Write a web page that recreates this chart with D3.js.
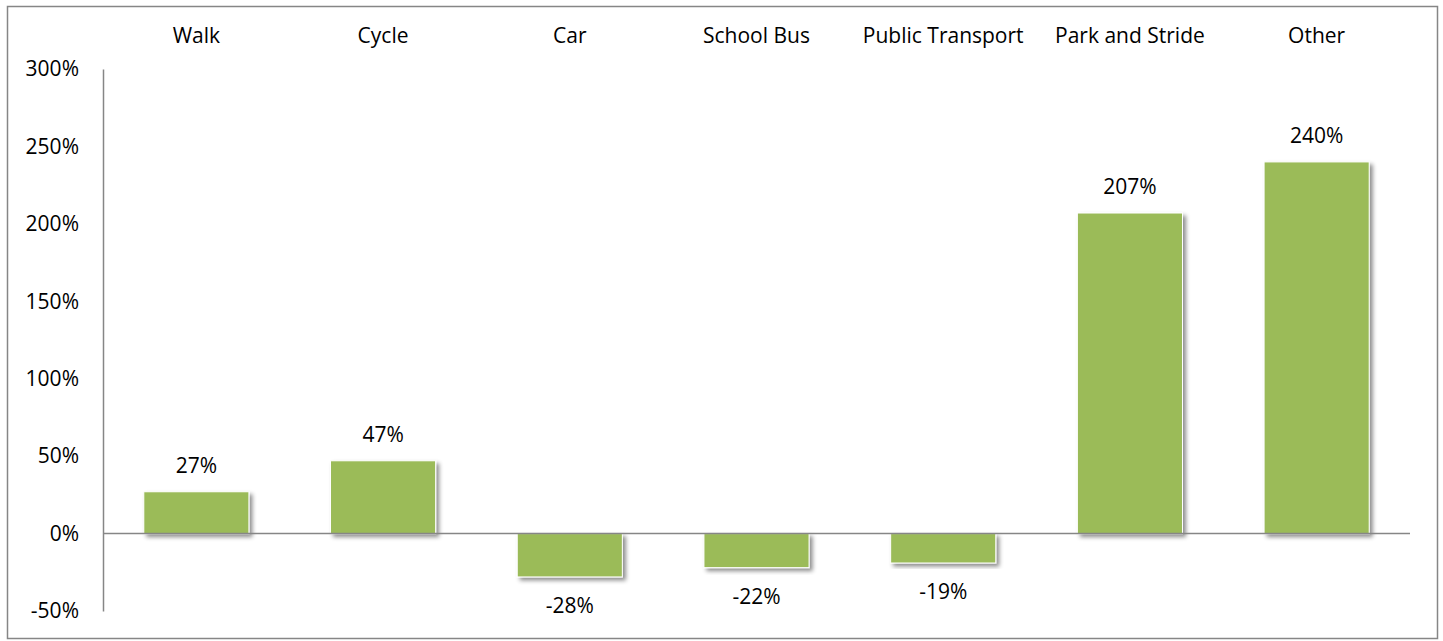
<!DOCTYPE html>
<html>
<head>
<meta charset="utf-8">
<script src="https://cdn.jsdelivr.net/npm/d3@7"></script>
<style>
  html, body { margin: 0; padding: 0; background: #fff; }
  svg { display: block; }
  text { font-family: "Open Sans", "Noto Sans", sans-serif; fill: #000; }
</style>
</head>
<body>
<svg id="chart" width="1443" height="641"></svg>
<script>
// Change in travel mode share, by mode
const categories = ["Walk", "Cycle", "Car", "School Bus", "Public Transport", "Park and Stride", "Other"];
const changes = [27, 47, -28, -22, -19, 207, 240];
const yTicks = [-50, 0, 50, 100, 150, 200, 250, 300];

const W = 1443, H = 641;
const plot = { left: 103, right: 1410, top: 69, bottom: 611 };
const axisColor = "#868686";
const barColor = "#9BBB59";
const fontSize = 21;

const svg = d3.select("#chart");

// soft drop shadow under each bar
const defs = svg.append("defs");
const f = defs.append("filter").attr("id", "barShadow")
  .attr("x", "-20%").attr("y", "-20%").attr("width", "140%").attr("height", "140%");
f.append("feDropShadow")
  .attr("dx", 3).attr("dy", 3).attr("stdDeviation", 2.2)
  .attr("flood-color", "#000").attr("flood-opacity", 0.45);

// outer frame
svg.append("rect")
  .attr("x", 7.5).attr("y", 6.5).attr("width", 1430).attr("height", 632)
  .attr("fill", "none").attr("stroke", axisColor).attr("stroke-width", 1.5);

const x = d3.scaleBand()
  .domain(categories)
  .range([plot.left, plot.right])
  .paddingInner(0.437)
  .paddingOuter(0.2185);

const y = d3.scaleLinear()
  .domain([-50, 300])
  .range([plot.bottom, plot.top]);

// y axis: labels only, no tick marks
const yAxis = svg.append("g")
  .attr("transform", `translate(${plot.left},0)`)
  .call(d3.axisLeft(y).tickValues(yTicks).tickFormat(d => d + "%").tickSize(0).tickPadding(24));
yAxis.select(".domain").attr("stroke", axisColor).attr("stroke-width", 1.5);
yAxis.selectAll("text").attr("font-size", fontSize).attr("font-family", '"Open Sans", sans-serif').attr("fill", "#000");

// category labels along the top
svg.append("g").selectAll("text")
  .data(categories)
  .join("text")
  .attr("x", d => x(d) + x.bandwidth() / 2)
  .attr("y", 36)
  .attr("dy", "0.35em")
  .attr("text-anchor", "middle")
  .attr("font-size", fontSize)
  .text(d => d);

const data = categories.map((c, i) => ({ c, v: changes[i] }));

// bars
svg.append("g").selectAll("rect")
  .data(data)
  .join("rect")
  .attr("x", d => x(d.c))
  .attr("width", x.bandwidth())
  .attr("y", d => y(Math.max(0, d.v)))
  .attr("height", d => Math.abs(y(d.v) - y(0)))
  .attr("fill", barColor)
  .attr("stroke", "#fff")
  .attr("stroke-width", 1)
  .attr("filter", "url(#barShadow)");

// zero line
svg.append("line")
  .attr("x1", plot.left).attr("x2", plot.right)
  .attr("y1", y(0)).attr("y2", y(0))
  .attr("stroke", axisColor).attr("stroke-width", 1.5);

// value labels
svg.append("g").selectAll("text")
  .data(data)
  .join("text")
  .attr("x", d => x(d.c) + x.bandwidth() / 2)
  .attr("y", d => d.v >= 0 ? y(d.v) - 26 : y(d.v) + 29)
  .attr("dy", "0.35em")
  .attr("text-anchor", "middle")
  .attr("font-size", fontSize)
  .text(d => d.v + "%");
</script>
</body>
</html>
